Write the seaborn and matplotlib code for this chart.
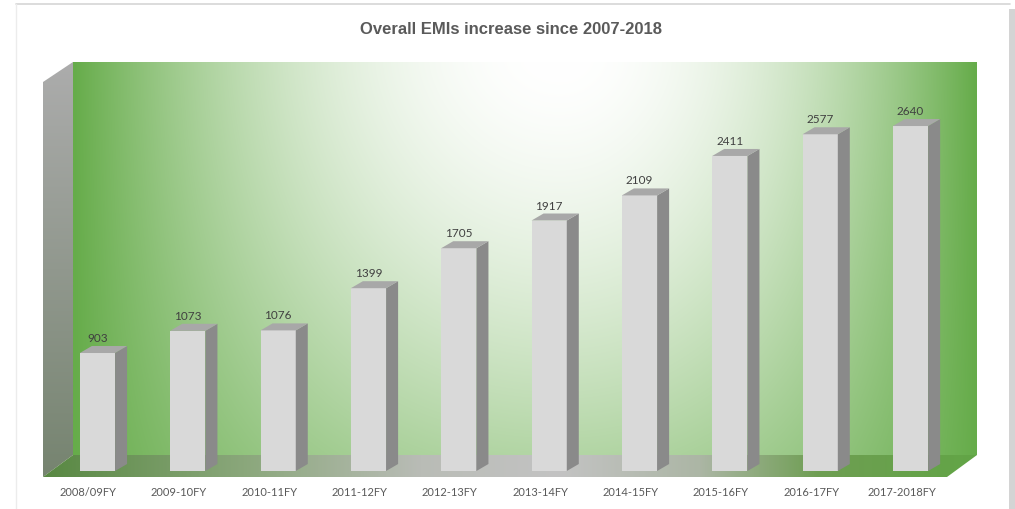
import numpy as np
import pandas as pd
import matplotlib
matplotlib.use("Agg")
import matplotlib.pyplot as plt
import matplotlib.transforms as mtransforms
from matplotlib.patches import Polygon, Rectangle
import seaborn as sns

# Financial years and the EMI counts for each
years = ["2008/09FY", "2009-10FY", "2010-11FY", "2011-12FY", "2012-13FY",
         "2013-14FY", "2014-15FY", "2015-16FY", "2016-17FY", "2017-2018FY"]
emis = [903, 1073, 1076, 1399, 1705, 1917, 2109, 2411, 2577, 2640]
title = "Overall EMIs increase since 2007-2018"

W, H, DPI = 1015, 510, 100
FRONT = "#d9d9d9"
SIDE = "#8a8a8a"
TOP = "#a8a8a8"

sns.set_theme(style="white")
plt.rcParams["font.family"] = ["Lato", "DejaVu Sans"]

fig = plt.figure(figsize=(W / DPI, H / DPI), dpi=DPI, facecolor="white")

# ---- background layer in pixel coordinates: card, walls and floor ----
bg = fig.add_axes([0, 0, 1, 1], zorder=0)
bg.set_xlim(0, W)
bg.set_ylim(H, 0)
bg.axis("off")

# card outline
bg.plot([16, 1010], [5, 5], color="#d6d6d6", lw=1.2)
bg.plot([16, 16], [5, H], color="#ececec", lw=1.0)
bg.add_patch(Rectangle((1009, 10), 6, H - 10, color="#d4d4d4", lw=0))

# back wall: light from the top centre fading to green at the sides and bottom
wx0, wx1, wy0, wy1 = 73, 977, 63, 456
xx, yy = np.meshgrid(np.linspace(wx0, wx1, 400), np.linspace(wy0, wy1, 200))
cx = 560
u = np.abs(xx - cx) / np.where(xx < cx, cx - wx0, wx1 - cx)
v = (yy - wy0) / (wy1 - wy0)
fx = np.clip(u, 0, 1) ** 2
fy = 0.5 * v ** 1.5
f = 1 - (1 - fx) * (1 - fy)
white = np.array([255, 255, 255]) / 255
green = np.array([102, 172, 74]) / 255
img = white + (green - white) * f[..., None]
bg.imshow(img, extent=(wx0, wx1, wy1, wy0), aspect="auto", interpolation="bilinear", zorder=1)

# left side wall
side_poly = Polygon([(43, 83), (73, 63), (73, 456), (43, 478)], closed=True,
                    facecolor="none", edgecolor="none")
bg.add_patch(side_poly)
sy = np.linspace(0, 1, 100)[:, None]
side_top = np.array([172, 172, 172]) / 255
side_bot = np.array([118, 132, 112]) / 255
side_img = side_top + (side_bot - side_top) * sy[..., None]
side_img = np.repeat(side_img, 4, axis=1)
im = bg.imshow(side_img, extent=(43, 73, 478, 63), aspect="auto", interpolation="bilinear", zorder=1)
im.set_clip_path(side_poly)

# floor
floor_poly = Polygon([(73, 456), (977, 456), (947, 478), (43, 478)], closed=True,
                     facecolor="none", edgecolor="none")
bg.add_patch(floor_poly)
stops_x = [43, 250, 420, 560, 700, 820, 977]
stops_c = np.array([[88, 136, 66], [140, 168, 125], [185, 188, 182], [195, 195, 195],
                    [172, 182, 165], [110, 158, 82], [98, 165, 70]]) / 255
fxs = np.linspace(43, 977, 500)
floor_row = np.stack([np.interp(fxs, stops_x, stops_c[:, k]) for k in range(3)], axis=-1)
floor_img = np.repeat(floor_row[None, :, :], 10, axis=0)
im = bg.imshow(floor_img, extent=(43, 977, 478, 456), aspect="auto", interpolation="bilinear", zorder=1)
im.set_clip_path(floor_poly)

bg.text(511, 30, title, ha="center", va="center", fontsize=12, fontweight="bold",
        color="#5a5a5a", family=["Liberation Sans", "DejaVu Sans"])

# ---- data layer ----
left_px, right_px = 52.3, 955.7
base_px, top_px = 472, 80
ymax = 3000
ax = fig.add_axes([left_px / W, (H - base_px) / H, (right_px - left_px) / W,
                   (base_px - top_px) / H], zorder=2)
ax.patch.set_alpha(0)

df = pd.DataFrame({"year": years, "emis": emis})
sns.barplot(data=df, x="year", y="emis", color=FRONT, saturation=1, width=0.39,
            edgecolor="none", linewidth=0, ax=ax)
ax.set_xlim(-0.5, len(years) - 0.5)
ax.set_ylim(0, ymax)

# depth of the bar bodies, in data units
px_per_cat = (right_px - left_px) / len(years)
px_per_val = (base_px - top_px) / ymax
dx = 12 / px_per_cat
dy = 7 / px_per_val

for p, val in zip(ax.patches, emis):
    x0, w, h = p.get_x(), p.get_width(), p.get_height()
    side = Polygon([(x0 + w, 0), (x0 + w + dx, dy), (x0 + w + dx, h + dy), (x0 + w, h)],
                   closed=True, facecolor=SIDE, edgecolor="none", clip_on=False, zorder=3)
    top = Polygon([(x0, h), (x0 + w, h), (x0 + w + dx, h + dy), (x0 + dx, h + dy)],
                  closed=True, facecolor=TOP, edgecolor="none", clip_on=False, zorder=3)
    ax.add_patch(side)
    ax.add_patch(top)
    ax.text(x0 + w / 2, h + dy + 3 / px_per_val, f"{val}", ha="center", va="bottom",
            fontsize=8.5, color="#404040", clip_on=False)

ax.set_xlabel("")
ax.set_ylabel("")
ax.set_yticks([])
ax.tick_params(axis="x", length=0, pad=11, labelsize=8, labelcolor="#595959")
shift = mtransforms.ScaledTranslation(-9 / DPI, 0, fig.dpi_scale_trans)
for lab in ax.get_xticklabels():
    lab.set_transform(lab.get_transform() + shift)
for s in ax.spines.values():
    s.set_visible(False)

fig.savefig("out.png", dpi=DPI, facecolor="white")
